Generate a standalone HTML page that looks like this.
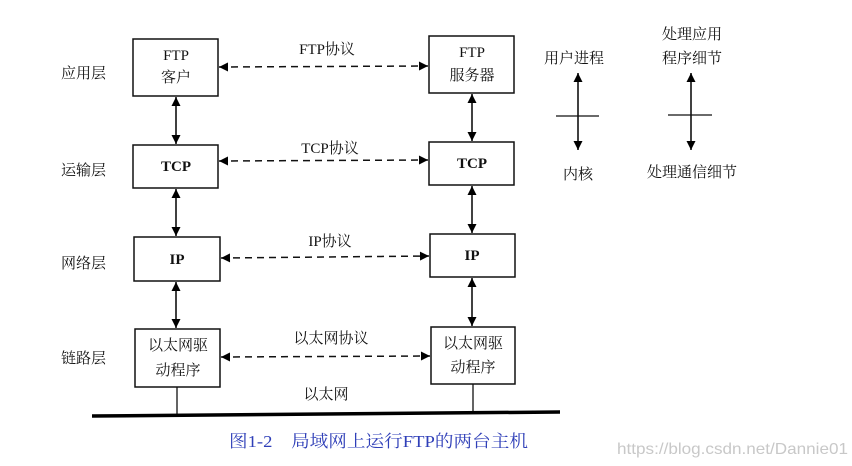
<!DOCTYPE html>
<html><head><meta charset="utf-8"><style>
html,body{margin:0;padding:0;background:#fff;}
svg{display:block;}
text{font-family:"Liberation Serif","Noto Serif CJK SC","Noto Sans CJK SC",serif;fill:#111;}
.s{font-family:"Liberation Sans","Noto Sans CJK SC",sans-serif;}
</style></head><body>
<svg width="852" height="466" viewBox="0 0 852 466" xmlns="http://www.w3.org/2000/svg">
<defs>
<marker id="a" viewBox="0 0 10 10" refX="10" refY="5" markerWidth="13" markerHeight="9" markerUnits="userSpaceOnUse" orient="auto-start-reverse"><path d="M0,0L10,5L0,10z" fill="#000"/></marker>
</defs>
<g fill="none" stroke="#111" stroke-width="1.5">
<rect x="133" y="39" width="85" height="57"/>
<rect x="133" y="145" width="85" height="43"/>
<rect x="134" y="237" width="86" height="44"/>
<rect x="135" y="329" width="85" height="58"/>
<rect x="429" y="36" width="85" height="57"/>
<rect x="429" y="142" width="85" height="43"/>
<rect x="430" y="234" width="85" height="43"/>
<rect x="431" y="327" width="84" height="57"/>
</g>
<g stroke="#111" stroke-width="1.6" marker-start="url(#a)" marker-end="url(#a)">
<line x1="176" y1="97" x2="176" y2="144"/>
<line x1="176" y1="189" x2="176" y2="236"/>
<line x1="176" y1="282" x2="176" y2="328"/>
<line x1="472" y1="94" x2="472" y2="141"/>
<line x1="472" y1="186" x2="472" y2="233"/>
<line x1="472" y1="278" x2="472" y2="326"/>
<line x1="578" y1="73" x2="578" y2="150"/>
<line x1="691" y1="73" x2="691" y2="150"/>
</g>
<g stroke="#111" stroke-width="1.5" stroke-dasharray="7,5" marker-start="url(#a)" marker-end="url(#a)">
<line x1="219" y1="67" x2="428" y2="66"/>
<line x1="219" y1="161" x2="428" y2="160"/>
<line x1="221" y1="258" x2="429" y2="256"/>
<line x1="221" y1="357" x2="430" y2="356"/>
</g>
<g stroke="#111" stroke-width="1.3">
<line x1="556" y1="116" x2="599" y2="116"/>
<line x1="668" y1="115" x2="712" y2="115"/>
<line x1="177" y1="387" x2="177" y2="415"/>
<line x1="473" y1="384" x2="473" y2="412"/>
</g>
<line x1="92" y1="416" x2="560" y2="412" stroke="#000" stroke-width="3.5"/>
<g font-size="15">
<text x="61" y="78">应用层</text>
<text x="61" y="175">运输层</text>
<text x="61" y="268">网络层</text>
<text x="61" y="363">链路层</text>
<text x="176" y="60" text-anchor="middle">FTP</text>
<text x="176" y="82" text-anchor="middle">客户</text>
<text x="472" y="57" text-anchor="middle">FTP</text>
<text x="472" y="80" text-anchor="middle">服务器</text>
<text x="176" y="171" text-anchor="middle" font-weight="bold">TCP</text>
<text x="472" y="168" text-anchor="middle" font-weight="bold">TCP</text>
<text x="177" y="264" text-anchor="middle" font-weight="bold">IP</text>
<text x="472" y="260" text-anchor="middle" font-weight="bold">IP</text>
<text x="178" y="350" text-anchor="middle">以太网驱</text>
<text x="178" y="375" text-anchor="middle">动程序</text>
<text x="473" y="348" text-anchor="middle">以太网驱</text>
<text x="473" y="372" text-anchor="middle">动程序</text>
<text x="327" y="54" text-anchor="middle">FTP协议</text>
<text x="330" y="153" text-anchor="middle">TCP协议</text>
<text x="330" y="246" text-anchor="middle">IP协议</text>
<text x="331" y="343" text-anchor="middle">以太网协议</text>
<text x="326" y="399" text-anchor="middle">以太网</text>
<text x="574" y="63" text-anchor="middle">用户进程</text>
<text x="578" y="179" text-anchor="middle">内核</text>
<text x="692" y="39" text-anchor="middle">处理应用</text>
<text x="692" y="63" text-anchor="middle">程序细节</text>
<text x="692" y="177" text-anchor="middle">处理通信细节</text>
</g>
<text x="229" y="447" font-size="17" textLength="299" lengthAdjust="spacingAndGlyphs" style="fill:#2f3fb8">图1-2　局域网上运行FTP的两台主机</text>
<text x="617" y="454" font-size="16" class="s" textLength="231" lengthAdjust="spacingAndGlyphs" style="fill:#c8c8c8">https://blog.csdn.net/Dannie01</text>
</svg>
</body></html>
